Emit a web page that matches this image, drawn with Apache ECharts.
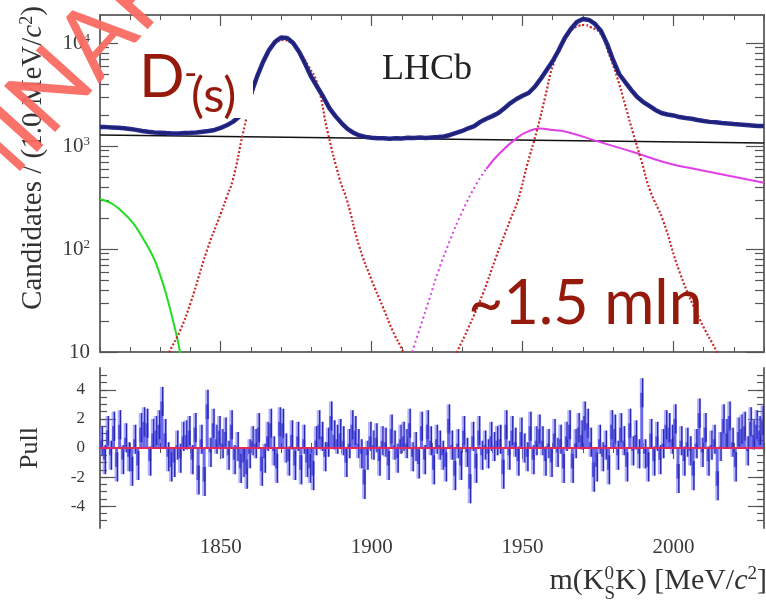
<!DOCTYPE html>
<html>
<head>
<meta charset="utf-8">
<script src="https://cdn.jsdelivr.net/npm/echarts@6/dist/echarts.min.js"></script>
<style>
  html, body { margin: 0; padding: 0; background: #ffffff; }
  #chart { width: 766px; height: 607px; }
</style>
</head>
<body>
<div id="chart"></div>
<script>
// ---- mass window ----
const massMin = 1810;
const massMax = 2030;
const dataStep = 2;          // MeV between plotted candidate points
const pullBin = 1;           // MeV per pull bin

// ---- candidates per 1 MeV, every 2 MeV from 1810 to 2030 ----
const candidates = [
  1530, 1525, 1515, 1502, 1488, 1462, 1434, 1398, 1372, 1352,
  1345, 1334, 1326, 1320, 1338, 1342, 1352, 1374, 1396, 1432,
  1500, 1590, 1715, 1910, 2330, 3190, 4680, 6520, 8530, 10240,
  11300, 11170, 10000, 8170, 6240, 4680, 3740, 2990, 2330, 1950,
  1670, 1465, 1340, 1265, 1225, 1204, 1192, 1188, 1176, 1190,
  1183, 1204, 1196, 1210, 1198, 1212, 1224, 1238, 1280, 1340,
  1400, 1485, 1560, 1715, 1840, 1950, 2090, 2330, 2610, 2860,
  3070, 3270, 3740, 4480, 5480, 6690, 8530, 11170, 13680, 16020,
  17100, 16730, 15300, 13080, 9800, 6840, 5000, 4180, 3500, 2990,
  2670, 2450, 2240, 2090, 2020, 1980, 1910, 1870, 1840, 1790,
  1750, 1715, 1700, 1670, 1655, 1635, 1620, 1600, 1580, 1560,
  1560
];

// ---- fit components [mass, candidates] ----
const combinatorial = [[1810, 1280], [1920, 1170], [2030, 1070]];
const dPlusSignal = [
  [1830, 6], [1833, 10], [1836.5, 16], [1840, 30], [1845.5, 98], [1850, 220],
  [1852, 320], [1854, 468], [1857.4, 1340], [1860, 2800], [1863, 5500],
  [1866, 8500], [1868.5, 10200], [1870.6, 10690], [1873, 10200], [1876, 8300],
  [1879, 6000], [1881.9, 4090], [1885.5, 1340], [1889.5, 468], [1891.8, 299],
  [1896, 104], [1900, 50], [1903.8, 27], [1907, 16], [1910.4, 10], [1913, 6]
];
const dsSignal = [
  [1925, 6], [1928.3, 10], [1932, 17], [1936.9, 37], [1941, 80], [1945.9, 191],
  [1948.5, 299], [1951.5, 650], [1954.8, 1430], [1957.5, 3000], [1960.1, 6100],
  [1963, 9500], [1966, 13000], [1968.5, 14600], [1970.5, 14960], [1972.5, 14300],
  [1975.7, 12500], [1978.5, 8000], [1981.3, 4680], [1984, 2500], [1986.6, 1340],
  [1989.5, 700], [1992.2, 374], [1996.5, 191], [2002.2, 58], [2008.8, 20.5],
  [2014.4, 10], [2018, 6]
];
const reflection = [
  [1913.4, 10], [1916, 17], [1919.3, 34], [1922, 60], [1926, 122], [1930, 230],
  [1934.9, 437], [1938, 600], [1942.5, 855], [1948.2, 1200], [1951.5, 1370],
  [1955.8, 1480], [1960, 1430], [1964.7, 1370], [1975.7, 1090], [1986.6, 875],
  [1997.9, 684], [2008.8, 585], [2028.7, 447], [2030, 440]
];
const reflectionRiseEnd = 7;   // index where the steep rising edge ends
const lowMassTail = [
  [1810, 305], [1811, 299], [1814, 275], [1817, 235], [1820.9, 179], [1824, 130],
  [1827.6, 84], [1830, 55], [1832.2, 34], [1835.5, 14], [1836.5, 10], [1838, 6]
];

// ---- pulls, one per 1 MeV bin from 1810 ----
const pulls = [
  0.5, -0.8, 1.2, -0.5, 1.5, -1.3, 1.6, -0.8, 0.7, -0.6,
  -1.6, 0.6, -1.2, 1.4, 1.8, 1.7, -0.9, 1.0, 1.2, 1.6,
  3.2, 1.0, -0.6, -1.3, -1.0, 0.2, -0.7, 0.8, 0.9, 1.2,
  -0.8, 1.4, -2.2, 0.6, -2.3, 3.0, -0.3, 1.7, 0.6, 1.2,
  0.3, 1.1, -0.5, 1.6, -0.8, 0.1, -1.4, -1.0, -1.8, -0.4,
  0.5, 0.3, 1.4, -1.6, -0.7, 0.8, 1.7, -0.2, -1.4, 1.8,
  1.7, 0.0, -0.9, 0.9, -1.2, 0.8, -1.5, 0.6, -1.0, -1.4,
  -1.9, 0.5, 1.6, 0.8, -0.6, 0.4, 2.2, 0.9, 0.6, 1.0,
  0.5, -1.0, 0.3, 1.6, 1.2, 0.3, -0.4, -2.5, -0.5, 0.8,
  0.2, 0.7, -0.9, 0.5, 0.4, -1.2, 1.3, 0.2, -0.7, 0.6,
  0.8, 0.3, 1.7, -0.6, 0.1, -1.1, 1.5, -0.8, 1.6, 0.5,
  -1.5, 0.6, 0.2, -0.5, -1.3, 2.0, 0.2, -1.9, 0.3, -1.2,
  1.2, -0.3, -2.8, 0.8, -1.4, 1.2, -0.5, 0.2, -0.4, 0.8,
  0.1, 0.5, 0.6, -1.8, 1.6, -0.5, 1.2, 0.4, -0.9, 1.1,
  0.0, -0.6, 1.5, -0.8, 0.5, 1.3, 0.5, -0.9, 0.3, -1.0,
  1.0, -0.3, 0.6, -1.4, 0.8, 1.6, -1.4, 0.3, 1.4, 0.9,
  2.2, 1.7, 0.4, -2.0, -1.3, 0.6, -0.6, 0.2, -1.5, 1.6,
  1.3, -0.5, 1.4, 0.5, -1.3, 1.7, -0.2, 0.9, -0.4, 3.8,
  -0.4, -1.3, 1.0, -0.9, 0.8, -0.8, 0.3, 1.6, 1.4, 0.6,
  2.0, -2.1, 0.5, -0.9, 0.4, -0.2, -1.9, 0.3, 2.4, -0.3,
  1.4, -0.9, 0.2, 0.6, -2.6, 0.1, 2.0, 1.0, 2.2, 0.4,
  -1.3, 1.1, 1.3, 1.5, -0.2, 1.8, 0.9, 1.6, 1.2, 1.9
];

// ---- axis ticks ----
const massLabels = [1850, 1900, 1950, 2000];
const countLabels = [10, 100, 1000, 10000];
const countMinor = [20, 30, 40, 50, 60, 70, 80, 90, 200, 300, 400, 500, 600, 700, 800, 900,
                    2000, 3000, 4000, 5000, 6000, 7000, 8000, 9000];
const pullLabels = [-4, -2, 0, 2, 4];
const pullMinor = [-5, -4.5, -4, -3.5, -3, -2.5, -2, -1.5, -1, -0.5, 0, 0.5, 1, 1.5, 2, 2.5, 3, 3.5, 4, 4.5, 5];
const countMax = 18700;

// ---- styling ----
const serif = 'Liberation Serif';
const sans = 'Lato, "Open Sans", sans-serif';
const frameColor = '#6c6c6c';
const tickColor = '#555555';
const labelColor = '#3a3a3a';
const darkRed = '#961a0c';
const stampColor = 'rgba(250,108,98,0.95)';

const candidatePoints = candidates.map((v, i) => [massMin + i * dataStep, v]);
const pullPoints = pulls.map((p, i) => [massMin + (i + 0.5) * pullBin, p]);

function massAxis(grid, position, major, showLabels) {
  return {
    type: 'value', gridIndex: grid, position: position,
    min: massMin, max: massMax,
    interval: major ? 50 : 10,
    axisLine: { show: major, lineStyle: { color: frameColor, width: 2 } },
    axisTick: major
      ? { show: true, inside: true, length: 11, customValues: massLabels, lineStyle: { color: tickColor, width: 1.2 } }
      : { show: true, inside: true, length: 5, lineStyle: { color: tickColor, width: 1 } },
    axisLabel: (major && showLabels)
      ? { show: true, customValues: massLabels, formatter: v => String(v),
          color: labelColor, fontFamily: serif, fontSize: 21, margin: 9 }
      : { show: false },
    splitLine: { show: false }
  };
}

function countAxis(position, major) {
  return {
    type: 'log', gridIndex: 0, position: position, logBase: 10,
    min: 10, max: countMax,
    axisLine: { show: major, lineStyle: { color: frameColor, width: 2 } },
    axisTick: { show: true, inside: true, length: major ? 18 : 9,
      customValues: major ? countLabels : countMinor,
      lineStyle: { color: tickColor, width: 1.2 } },
    axisLabel: (major && position === 'left') ? {
      show: true, customValues: countLabels, color: labelColor, fontFamily: serif, fontSize: 21, margin: 10,
      formatter: v => v === 10 ? '10' : '10{s|' + Math.round(Math.log10(v)) + '}',
      rich: { s: { fontFamily: serif, fontSize: 13, color: labelColor, verticalAlign: 'top', padding: [0, 0, 9, 0] } }
    } : { show: false },
    splitLine: { show: false }
  };
}

function pullAxis(position, major) {
  return {
    type: 'value', gridIndex: 1, position: position,
    min: -5.5, max: 5.5, interval: 0.5,
    axisLine: { show: major, lineStyle: { color: frameColor, width: 2 } },
    axisTick: { show: true, inside: true, length: major ? 16 : 7,
      customValues: major ? pullLabels : pullMinor,
      lineStyle: { color: tickColor, width: 1.2 } },
    axisLabel: (major && position === 'left') ? {
      show: true, customValues: pullLabels, formatter: v => String(v),
      color: labelColor, fontFamily: serif, fontSize: 17, margin: 15
    } : { show: false },
    splitLine: { show: false }
  };
}

// Lay out a horizontal run of text pieces (with raised / lowered parts) ending at xRight.
const measureCtx = document.createElement('canvas').getContext('2d');
function textRun(pieces, xRight, baseline) {
  const widths = pieces.map(p => {
    if (p.stack) {
      return Math.max(...p.stack.map(s => { measureCtx.font = s.font; return measureCtx.measureText(s.text).width; }));
    }
    measureCtx.font = p.font;
    return measureCtx.measureText(p.text).width;
  });
  const total = widths.reduce((a, b) => a + b, 0);
  let x = xRight - total;
  const out = [];
  pieces.forEach((p, i) => {
    const parts = p.stack || [p];
    parts.forEach(s => {
      out.push({ type: 'text', x: x, y: baseline + (s.dy || 0), z: 20,
        style: { text: s.text, font: s.font, fill: '#333333', align: 'left', verticalAlign: 'bottom' } });
    });
    x += widths[i];
  });
  return out;
}

const big = '30px "Liberation Serif"';
const small = '19px "Liberation Serif"';
const massTitle = textRun([
  { text: 'm(K', font: big },
  { stack: [{ text: '0', font: small, dy: -12 }, { text: 'S', font: small, dy: 8 }] },
  { text: 'K) [MeV/', font: big },
  { text: 'c', font: 'italic ' + big },
  { text: '2', font: small, dy: -12 },
  { text: ']', font: big }
], 767, 596);

const chart = echarts.init(document.getElementById('chart'), null, { renderer: 'canvas' });

chart.setOption({
  animation: false,
  backgroundColor: '#ffffff',
  grid: [
    { left: 100, top: 15, width: 664, height: 337 },
    { left: 100, top: 368, width: 664, height: 160 }
  ],
  xAxis: [
    massAxis(0, 'bottom', true, false),
    massAxis(0, 'bottom', false, false),
    massAxis(0, 'top', true, false),
    massAxis(0, 'top', false, false),
    massAxis(1, 'bottom', true, true),
    massAxis(1, 'bottom', false, false),
    massAxis(1, 'top', true, false),
    massAxis(1, 'top', false, false)
  ],
  yAxis: [
    countAxis('left', true),
    countAxis('left', false),
    countAxis('right', true),
    countAxis('right', false),
    pullAxis('left', true),
    pullAxis('left', false),
    pullAxis('right', true),
    pullAxis('right', false)
  ],
  series: [
    { type: 'line', name: 'combinatorial', xAxisIndex: 0, yAxisIndex: 0, data: combinatorial,
      showSymbol: false, clip: true, z: 3, lineStyle: { color: '#111111', width: 1.6 } },
    { type: 'line', name: 'low mass', xAxisIndex: 0, yAxisIndex: 0, data: lowMassTail,
      showSymbol: false, smooth: true, clip: true, z: 3, lineStyle: { color: '#22dd22', width: 2 } },
    { type: 'line', name: 'reflection rise', xAxisIndex: 0, yAxisIndex: 0,
      data: reflection.slice(0, reflectionRiseEnd + 1),
      showSymbol: false, smooth: true, clip: true, z: 3,
      lineStyle: { color: '#d844e0', width: 2, type: [2, 3] } },
    { type: 'line', name: 'reflection', xAxisIndex: 0, yAxisIndex: 0,
      data: reflection.slice(reflectionRiseEnd),
      showSymbol: false, smooth: true, clip: true, z: 3, lineStyle: { color: '#e040e6', width: 2 } },
    { type: 'line', name: 'D+', xAxisIndex: 0, yAxisIndex: 0, data: dPlusSignal,
      showSymbol: false, smooth: true, clip: true, z: 4,
      lineStyle: { color: '#cc2828', width: 2.2, type: [2, 2] } },
    { type: 'line', name: 'Ds+', xAxisIndex: 0, yAxisIndex: 0, data: dsSignal,
      showSymbol: false, smooth: true, clip: true, z: 4,
      lineStyle: { color: '#cc2828', width: 2.2, type: [2, 2] } },
    { type: 'line', name: 'data', xAxisIndex: 0, yAxisIndex: 0, data: candidatePoints,
      showSymbol: false, clip: true, z: 5, lineStyle: { color: '#272b8f', width: 4.5 } },
    { type: 'line', name: 'fit', xAxisIndex: 0, yAxisIndex: 0, data: candidatePoints,
      showSymbol: false, smooth: true, clip: true, z: 6, lineStyle: { color: '#1d1f6e', width: 1.5 } },
    {
      type: 'custom', name: 'pull', xAxisIndex: 4, yAxisIndex: 4, data: pullPoints, clip: true, z: 3,
      renderItem: function (params, api) {
        const m = api.value(0), p = api.value(1);
        const l = api.coord([m - pullBin / 2, 0])[0];
        const r = api.coord([m + pullBin / 2, 0])[0];
        const y0 = api.coord([m, 0])[1];
        const yp = api.coord([m, p])[1];
        const yHi = api.coord([m, p + 1])[1];
        const yLo = api.coord([m, p - 1])[1];
        return {
          type: 'group',
          children: [
            { type: 'rect', shape: { x: l - 0.5, y: yHi, width: r - l + 1, height: yLo - yHi },
              style: { fill: 'rgba(125,125,255,0.6)' } },
            { type: 'rect', shape: { x: l, y: Math.min(y0, yp), width: r - l, height: Math.abs(yp - y0) },
              style: { fill: 'rgba(55,55,225,0.75)' } },
            { type: 'line', shape: { x1: r - 0.7, y1: yHi, x2: r - 0.7, y2: yLo },
              style: { stroke: '#2a2aa8', lineWidth: 1.4 } }
          ]
        };
      }
    },
    { type: 'line', name: 'zero', xAxisIndex: 4, yAxisIndex: 4, data: [[massMin, 0], [massMax, 0]],
      showSymbol: false, z: 6, lineStyle: { color: '#e2285e', width: 2 } }
  ],
  graphic: [
    // experiment tag
    { type: 'text', x: 427, y: 70, z: 20,
      style: { text: 'LHCb', font: '36px "Liberation Serif"', fill: '#222222', align: 'center', verticalAlign: 'middle' } },
    // y-axis titles
    { type: 'text', x: 33, y: 158, rotation: Math.PI / 2, z: 20,
      style: {
        text: 'Candidates / (1.0 MeV/{i|c}{s|2})', fontFamily: serif, fontSize: 29, fill: '#333333',
        align: 'center', verticalAlign: 'middle',
        rich: {
          i: { fontFamily: serif, fontSize: 29, fontStyle: 'italic', fill: '#333333' },
          s: { fontFamily: serif, fontSize: 18, fill: '#333333', verticalAlign: 'top', padding: [0, 0, 10, 0] }
        }
      } },
    { type: 'text', x: 30, y: 448, rotation: Math.PI / 2, z: 20,
      style: { text: 'Pull', font: '26px "Liberation Serif"', fill: '#333333', align: 'center', verticalAlign: 'middle' } },
    ...massTitle,
    // D(s) label on a white card
    { type: 'rect', shape: { x: 126, y: 30, width: 127, height: 88 }, z: 30, style: { fill: '#ffffff' } },
    { type: 'text', x: 139, y: 108, z: 31,
      style: { text: 'D', font: '60px ' + sans, fill: darkRed, align: 'left', verticalAlign: 'bottom' } },
    { type: 'text', x: 184, y: 92, z: 31,
      style: { text: '-', font: '36px ' + sans, fill: darkRed, align: 'left', verticalAlign: 'bottom' } },
    { type: 'text', x: 191, y: 121, z: 31,
      style: { text: '(s)', font: '49px ' + sans, fill: darkRed, align: 'left', verticalAlign: 'bottom' } },
    // yield
    { type: 'text', x: 468, y: 335, z: 31,
      style: { text: '~1.5 mln', font: '61px ' + sans, fill: darkRed, align: 'left', verticalAlign: 'bottom' } },
    // diagonal stamp
    { type: 'text', x: 62, y: 150, rotation: 48 * Math.PI / 180, z: 40,
      style: { text: 'NARY', font: '96px ' + sans, fill: stampColor, align: 'left', verticalAlign: 'bottom' } },
    { type: 'text', x: 62, y: 150, rotation: 48 * Math.PI / 180, z: 40,
      style: { text: 'PRELIMI', font: '96px ' + sans, fill: stampColor, align: 'right', verticalAlign: 'bottom' } }
  ]
});
</script>
</body>
</html>
